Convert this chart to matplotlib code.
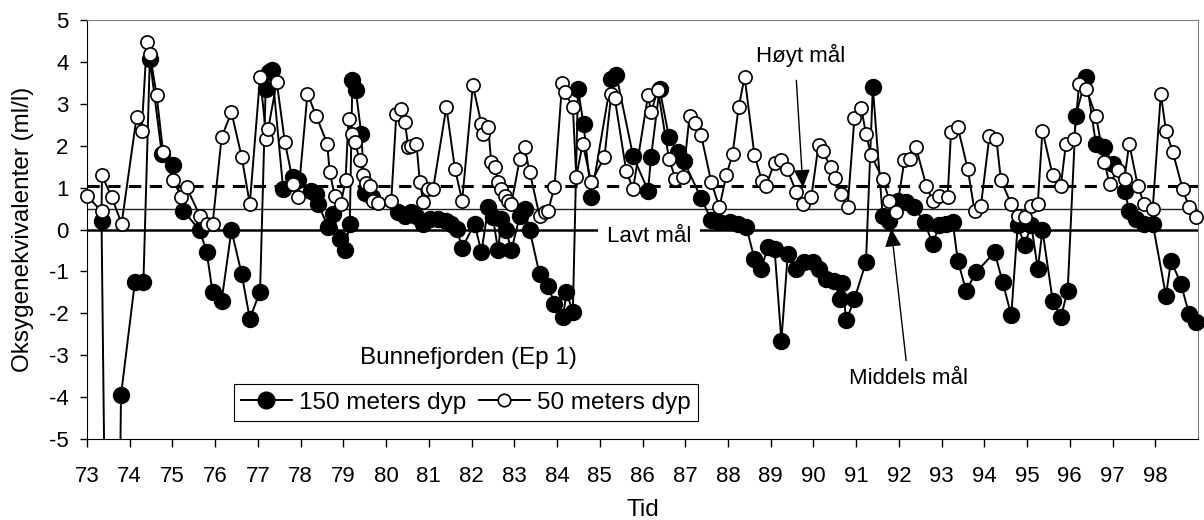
import numpy as np
import matplotlib.pyplot as plt
from matplotlib.lines import Line2D

plt.rcParams['font.family'] = ['Liberation Sans', 'DejaVu Sans']
plt.rcParams['axes.unicode_minus'] = False

# 150 meters dyp (fylte sirkler)
tid_150 = [73.34, 73.60, 73.795, 74.12, 74.32, 74.47, 74.75, 75.02, 75.25, 75.64,
           75.80, 75.94, 76.15, 76.38, 76.62, 76.81, 77.05, 77.18, 77.26, 77.33,
           77.59, 77.83, 77.94, 78.25, 78.37, 78.41, 78.64, 78.76, 78.92, 79.03,
           79.15, 79.21, 79.29, 79.42, 79.50, 79.68, 80.28, 80.44, 80.59, 80.71,
           80.87, 81.02, 81.22, 81.41, 81.53, 81.65, 81.78, 82.07, 82.23, 82.39,
           82.50, 82.62, 82.70, 82.81, 82.93, 83.13, 83.24, 83.36, 83.59, 83.79,
           83.94, 84.14, 84.22, 84.37, 84.49, 84.62, 84.80, 85.27, 85.39, 85.78,
           86.13, 86.20, 86.40, 86.62, 86.83, 86.97, 87.37, 87.61, 87.80, 88.04,
           88.23, 88.43, 88.62, 88.78, 88.93, 89.09, 89.25, 89.40, 89.60, 89.79,
           89.99, 90.14, 90.30, 90.49, 90.62, 90.67, 90.77, 90.96, 91.23, 91.39,
           91.62, 91.78, 91.97, 92.17, 92.36, 92.60, 92.79, 92.95, 93.10, 93.26,
           93.38, 93.57, 93.81, 94.24, 94.43, 94.63, 94.78, 94.94, 95.10, 95.25,
           95.36, 95.60, 95.79, 95.95, 96.14, 96.38, 96.61, 96.81, 97.00, 97.28,
           97.39, 97.55, 97.74, 97.94, 98.25, 98.37, 98.60, 98.79, 98.95]
oks_150 = [0.21, -23.0, -3.96, -1.26, -1.26, 4.08, 1.81, 1.53, 0.45, -0.02,
           -0.54, -1.50, -1.70, -0.02, -1.06, -2.13, -1.48, 3.35, 3.75, 3.80,
           0.97, 1.25, 1.17, 0.93, 0.85, 0.61, 0.06, 0.37, -0.22, -0.50,
           0.14, 3.56, 3.32, 2.28, 0.87, 0.77, 0.41, 0.33, 0.41, 0.33,
           0.14, 0.26, 0.26, 0.21, 0.14, 0.02, -0.44, 0.14, -0.54, 0.53,
           0.29, -0.50, 0.26, -0.02, -0.50, 0.33, 0.49, -0.02, -1.06, -1.34,
           -1.77, -2.09, -1.50, -1.97, 3.36, 2.52, 0.77, 3.60, 3.68, 1.75,
           0.93, 1.73, 3.36, 2.20, 1.85, 1.63, 0.75, 0.23, 0.17, 0.17,
           0.14, 0.06, -0.70, -0.94, -0.42, -0.46, -2.65, -0.58, -0.94, -0.78,
           -0.78, -0.94, -1.18, -1.24, -1.65, -1.28, -2.17, -1.66, -0.78, 3.40,
           0.33, 0.21, 0.69, 0.65, 0.53, 0.17, -0.34, 0.10, 0.14, 0.17,
           -0.74, -1.46, -1.02, -0.54, -1.26, -2.05, 0.10, -0.36, 0.10, -0.94,
           -0.02, -1.70, -2.09, -1.46, 2.72, 3.64, 2.05, 1.97, 1.57, 0.93,
           0.45, 0.26, 0.14, 0.14, -1.58, -0.74, -1.30, -2.01, -2.21]

# 50 meters dyp (åpne sirkler)
tid_50 = [73.00, 73.34, 73.35, 73.58, 73.81, 74.16, 74.28, 74.40, 74.47, 74.63,
          74.78, 75.02, 75.21, 75.33, 75.64, 75.80, 75.94, 76.15, 76.38, 76.62,
          76.81, 77.05, 77.20, 77.24, 77.44, 77.63, 77.83, 77.94, 78.16, 78.37,
          78.62, 78.68, 78.80, 78.94, 79.05, 79.12, 79.19, 79.27, 79.38, 79.46,
          79.52, 79.62, 79.70, 79.81, 80.12, 80.24, 80.36, 80.44, 80.52, 80.59,
          80.71, 80.79, 80.87, 80.98, 81.10, 81.41, 81.61, 81.78, 82.03, 82.23,
          82.27, 82.39, 82.46, 82.54, 82.62, 82.70, 82.78, 82.85, 82.93, 83.13,
          83.24, 83.36, 83.59, 83.71, 83.79, 83.94, 84.12, 84.18, 84.37, 84.45,
          84.60, 84.80, 85.11, 85.27, 85.35, 85.62, 85.78, 86.13, 86.20, 86.36,
          86.62, 86.77, 86.95, 87.10, 87.22, 87.37, 87.61, 87.80, 87.96, 88.11,
          88.25, 88.39, 88.62, 88.80, 88.89, 89.09, 89.25, 89.38, 89.60, 89.75,
          89.95, 90.12, 90.22, 90.40, 90.51, 90.65, 90.80, 90.96, 91.12, 91.23,
          91.35, 91.62, 91.78, 91.94, 92.13, 92.25, 92.40, 92.64, 92.79, 92.95,
          93.14, 93.22, 93.38, 93.61, 93.77, 93.92, 94.12, 94.28, 94.39, 94.63,
          94.78, 94.94, 95.09, 95.25, 95.36, 95.60, 95.79, 95.91, 96.10, 96.22,
          96.38, 96.61, 96.81, 96.93, 97.12, 97.28, 97.39, 97.59, 97.74, 97.94,
          98.13, 98.25, 98.41, 98.64, 98.79, 98.95]
oks_50 = [0.81, 0.43, 1.29, 0.77, 0.14, 2.68, 2.36, 4.47, 4.20, 3.20,
          1.85, 1.17, 0.77, 1.01, 0.33, 0.14, 0.14, 2.20, 2.80, 1.73,
          0.61, 3.64, 2.17, 2.40, 3.52, 2.09, 1.09, 0.77, 3.24, 2.70,
          2.05, 1.37, 0.79, 0.61, 1.17, 2.64, 2.28, 2.09, 1.67, 1.31,
          1.11, 1.03, 0.67, 0.63, 0.69, 2.76, 2.88, 2.56, 1.96, 2.00,
          2.05, 1.13, 0.65, 0.97, 0.97, 2.92, 1.45, 0.69, 3.44, 2.52,
          2.28, 2.44, 1.61, 1.49, 1.13, 0.97, 0.81, 0.69, 0.61, 1.69,
          1.96, 1.37, 0.33, 0.41, 0.45, 1.01, 3.50, 3.28, 2.92, 1.25,
          2.05, 1.13, 1.73, 3.24, 3.14, 1.39, 0.97, 3.20, 2.80, 3.34,
          1.69, 1.21, 1.25, 2.70, 2.54, 2.26, 1.13, 0.53, 1.29, 1.81,
          2.92, 3.64, 1.77, 1.15, 1.05, 1.59, 1.65, 1.45, 0.89, 0.61,
          0.77, 2.02, 1.87, 1.49, 1.23, 0.85, 0.53, 2.66, 2.90, 2.28,
          1.77, 1.21, 0.69, 0.41, 1.65, 1.69, 1.96, 1.05, 0.69, 0.81,
          0.77, 2.32, 2.44, 1.45, 0.45, 0.57, 2.24, 2.17, 1.17, 0.61,
          0.33, 0.29, 0.57, 0.61, 2.36, 1.29, 1.05, 2.05, 2.17, 3.48,
          3.36, 2.72, 1.61, 1.09, 1.41, 1.21, 2.05, 1.05, 0.61, 0.49,
          3.24, 2.36, 1.85, 0.97, 0.53, 0.29]

hoyt_maal = 1.05
middels_maal = 0.5
lavt_maal = 0.0

fig = plt.figure(figsize=(12.04, 5.2), dpi=100)
ax = fig.add_axes([87 / 1204, 81 / 520, 1111 / 1204, 419 / 520])

# mål-linjer
ax.axhline(hoyt_maal, color='black', lw=2.2, dashes=(4, 2.8), zorder=1)
ax.axhline(middels_maal, color='#222222', lw=1.0, zorder=1)
ax.axhline(lavt_maal, color='black', lw=1.8, zorder=1)

# 150 m
ax.plot(tid_150, oks_150, color='black', lw=1.4, zorder=2)
oks_150_synlig = np.where(np.array(oks_150) < -5, np.nan, oks_150)
ax.plot(tid_150, oks_150_synlig, 'o', ms=11.5, mfc='black', mec='black',
        clip_on=False, zorder=3)

# 50 m
ax.plot(tid_50, oks_50, color='black', lw=1.4, zorder=4)
ax.plot(tid_50, oks_50, 'o', ms=9.5, mfc='white', mec='black', mew=1.2,
        clip_on=False, zorder=5)

ax.set_xlim(73, 99)
ax.set_ylim(-5, 5)
ax.set_xticks(range(73, 99))
ax.set_yticks(range(-5, 6))
ax.tick_params(axis='x', direction='out', length=5.8, width=1, pad=13.5, labelsize=16)
ax.tick_params(axis='y', direction='out', length=5, width=1, pad=8.4, labelsize=16)
for s in ['top', 'right']:
    ax.spines[s].set_color('#808080')
ax.spines['left'].set_color('black')
ax.spines['bottom'].set_color('black')

ax.set_ylabel('Oksygenekvivalenter (ml/l)', fontsize=17.5)
ax.yaxis.set_label_coords(-0.0477, 0.5)
ax.set_xlabel('Tid', fontsize=17.5)
ax.xaxis.set_label_coords(0.5, -0.1425)

# tekster
ax.text(81.92, -3.2, 'Bunnefjorden (Ep 1)', ha='center', va='baseline', fontsize=17.5)
ax.text(86.155, -0.30, 'Lavt mål', ha='center', va='baseline', fontsize=16,
        bbox=dict(facecolor='white', edgecolor='none', pad=6), zorder=1.5)
ax.text(89.70, 4.0, 'Høyt mål', ha='center', va='baseline', fontsize=16)
ax.text(92.22, -3.68, 'Middels mål', ha='center', va='baseline', fontsize=16)

pil = dict(arrowstyle='-|>,head_length=1.1,head_width=0.5', color='black', lw=1,
           shrinkA=0, shrinkB=0, mutation_scale=10)
ax.annotate('', xy=(89.755, 1.0), xytext=(89.60, 3.56), arrowprops=pil)
ax.annotate('', xy=(91.82, 0.02), xytext=(92.17, -3.13), arrowprops=pil)

handles = [
    Line2D([], [], color='black', lw=1.4, marker='o', ms=12, mfc='black', mec='black'),
    Line2D([], [], color='black', lw=1.4, marker='o', ms=9, mfc='white', mec='black', mew=1.2),
]
leg = ax.legend(handles, ['150 meters dyp', '50 meters dyp'], ncol=2, loc='center',
                bbox_to_anchor=(0.341, 0.087), fontsize=17.5, handlelength=2.1,
                handletextpad=0.3, columnspacing=0.5, borderpad=0.3,
                fancybox=False, edgecolor='black', framealpha=1)
leg.get_frame().set_linewidth(0.8)

fig.savefig('out.png', dpi=100)
